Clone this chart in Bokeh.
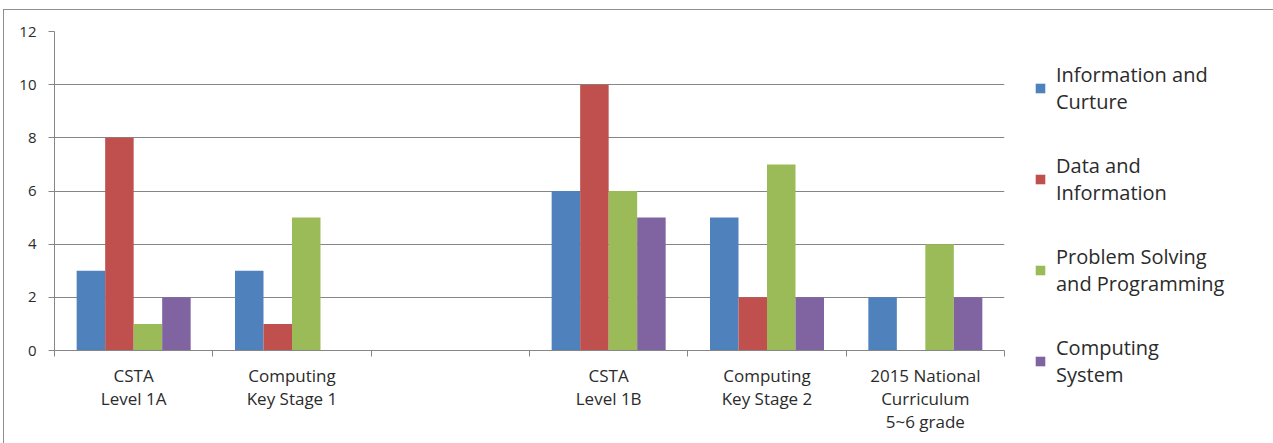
from bokeh.plotting import figure
from bokeh.models import Range1d, FixedTicker, Legend, LegendItem
from bokeh.embed import file_html
from bokeh.resources import INLINE

# ---- data ----
categories = ["CSTA\nLevel 1A", "Computing\nKey Stage 1", "", "CSTA\nLevel 1B",
              "Computing\nKey Stage 2", "2015 National\nCurriculum\n5~6 grade"]
series_names = ["Information and\nCurture", "Data and\nInformation",
                "Problem Solving\nand Programming", "Computing\nSystem"]
info_culture = [3, 3, 0, 6, 5, 2]
data_info = [8, 1, 0, 10, 2, 0]
problem_solving = [1, 5, 0, 6, 7, 4]
computing_system = [2, 0, 0, 5, 2, 2]
y_ticks = [0, 2, 4, 6, 8, 10, 12]

series_values = [info_culture, data_info, problem_solving, computing_system]
colors = ["#4F81BD", "#C0504D", "#9BBB59", "#8064A2"]

# ---- layout constants ----
LEFT, TOP, BOTTOM = 50, 21, 93
n_cat = len(categories)
BAR_W = 0.18
FONT = "Open Sans"
TXT = "#2b2b2b"
GRID = "#868686"

p = figure(frame_width=950, frame_height=319, output_backend="svg", toolbar_location=None,
           x_range=Range1d(0, n_cat), y_range=Range1d(0, 12),
           min_border_left=LEFT, min_border_right=0,
           min_border_top=TOP, min_border_bottom=BOTTOM)
p.styles = {"border": "1px solid #8f8f8f", "margin-left": "3px", "margin-top": "9px"}
p.outline_line_color = None
p.background_fill_color = "white"
p.border_fill_color = "white"

renderers = []
for i, vals in enumerate(series_values):
    xs = [k + 0.5 + (i - 1.5) * BAR_W for k in range(n_cat)]
    r = p.vbar(x=xs, top=vals, bottom=0, width=BAR_W, fill_color=colors[i],
               line_color=None)
    renderers.append(r)

# x axis
xa = p.xaxis[0]
xa.ticker = FixedTicker(ticks=[k + 0.5 for k in range(n_cat)],
                        minor_ticks=list(range(n_cat + 1)))
xa.major_label_overrides = {k + 0.5: lab for k, lab in enumerate(categories)}
xa.axis_line_color = GRID
xa.major_tick_line_color = None
xa.minor_tick_line_color = GRID
xa.minor_tick_out = 6
xa.minor_tick_in = 0
xa.major_label_standoff = 7
xa.major_label_text_font = FONT
xa.major_label_text_font_size = "17px"
xa.major_label_text_color = TXT
xa.major_label_text_line_height = 1.0

# y axis
ya = p.yaxis[0]
ya.ticker = FixedTicker(ticks=y_ticks)
ya.axis_line_color = GRID
ya.major_tick_line_color = GRID
ya.major_tick_out = 6
ya.major_tick_in = 0
ya.minor_tick_line_color = None
ya.major_label_standoff = 12
ya.major_label_text_font = FONT
ya.major_label_text_font_size = "15px"
ya.major_label_text_color = TXT

p.xgrid.grid_line_color = None
p.ygrid.grid_line_color = GRID

legend = Legend(items=[LegendItem(label=n, renderers=[r]) for n, r in zip(series_names, renderers)],
                location="top_left")
legend.label_text_font = FONT
legend.label_text_font_size = "20px"
legend.label_text_color = TXT
legend.glyph_width = 12
legend.glyph_height = 12
legend.label_standoff = 10
legend.spacing = 37
legend.padding = 2
legend.margin = 30
legend.border_line_color = None
legend.background_fill_alpha = 0
p.add_layout(legend, "right")

open("out.html", "w").write(file_html(p, INLINE))
